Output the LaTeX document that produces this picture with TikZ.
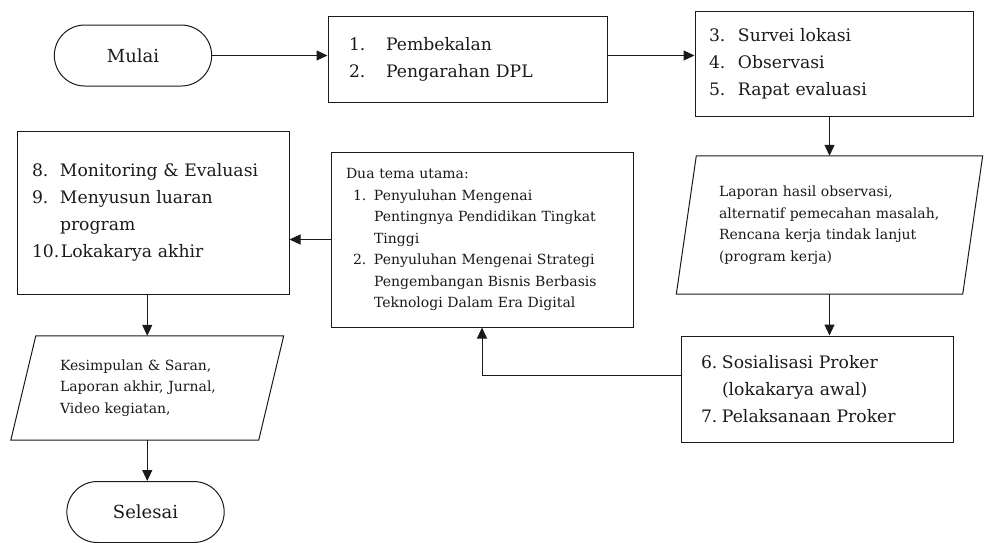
\documentclass[tikz,border=0pt]{standalone}
\usepackage{fontspec}
\setmainfont{DejaVu Serif}
\usetikzlibrary{arrows.meta,shapes.misc}
\newcommand{\itm}[2]{\makebox[#1][l]{#2}}
\definecolor{ink}{HTML}{1A1A1A}
\begin{document}
\begin{tikzpicture}[x=1pt,y=-1pt, text=ink,
  box/.style={draw=ink, line width=1pt, rectangle, inner ysep=0pt, align=left},
  plain/.style={draw=none, rectangle, inner ysep=0pt, align=left},
  big/.style={font=\fontsize{17.2}{27}\selectfont},
  small/.style={font=\fontsize{14}{21.5}\selectfont},
  term/.style={draw=ink, line width=1pt, rounded rectangle, minimum width=164pt, minimum height=61pt, font=\fontsize{18}{20}\selectfont},
  arr/.style={draw=ink, line width=1pt, -{Triangle[length=11pt,width=10pt]}},
  para/.style={draw=ink, line width=1pt, line join=miter},
]
\useasboundingbox (0,0) rectangle (984,542);

\node[term] (mulai) at (133,55.5) {Mulai};

\node[box,big, minimum width=279pt, minimum height=86pt, inner xsep=21pt, text width=237pt] (box1) at (467.5,59)
  {\itm{37pt}{1.}Pembekalan\\ \itm{37pt}{2.}Pengarahan DPL};

\node[box,big, minimum width=278pt, minimum height=105pt, inner xsep=14pt, text width=250pt] (box2) at (834,63.5)
  {\itm{29pt}{3.}Survei lokasi\\ \itm{29pt}{4.}Observasi\\ \itm{29pt}{5.}Rapat evaluasi};

\node[plain,small, minimum width=286pt, minimum height=138pt, inner xsep=32.5pt, text width=221pt] (p1) at (829.5,225)
  {Laporan hasil observasi,\\ alternatif pemecahan masalah,\\ Rencana kerja tindak lanjut\\ (program kerja)};
\draw[para] ([xshift=10pt]p1.north west) -- ([xshift=10pt]p1.north east) -- ([xshift=-10pt]p1.south east) -- ([xshift=-10pt]p1.south west) -- cycle;

\node[box,big, minimum width=272pt, minimum height=106pt, inner xsep=20pt, text width=232pt] (box3) at (817,389)
  {\itm{21pt}{6.}Sosialisasi Proker\\ \hspace*{21pt}(lokakarya awal)\\ \itm{21pt}{7.}Pelaksanaan Proker};

\node[box,small, minimum width=302pt, minimum height=175pt, inner xsep=15pt, text width=272pt] (mid) at (482,239.5)
  {Dua tema utama:\\
   \hspace*{7pt}\itm{21pt}{1.}Penyuluhan Mengenai\\
   \hspace*{28pt}Pentingnya Pendidikan Tingkat\\
   \hspace*{28pt}Tinggi\\
   \hspace*{7pt}\itm{21pt}{2.}Penyuluhan Mengenai Strategi\\
   \hspace*{28pt}Pengembangan Bisnis Berbasis\\
   \hspace*{28pt}Teknologi Dalam Era Digital};

\node[box,big, minimum width=272pt, minimum height=163pt, inner xsep=15pt, text width=242pt] (lbox) at (153,212.5)
  {\itm{28pt}{8.}Monitoring \& Evaluasi\\ \itm{28pt}{9.}Menyusun luaran\\ \hspace*{28pt}program\\ 10.\hspace{1.5pt}Lokakarya akhir};

\node[plain,small, minimum width=247.5pt, minimum height=104pt, inner xsep=36.5pt, text width=174.5pt] (p2) at (147.25,388)
  {Kesimpulan \& Saran,\\ Laporan akhir, Jurnal,\\ Video kegiatan,};
\draw[para] ([xshift=12.5pt]p2.north west) -- ([xshift=12.5pt]p2.north east) -- ([xshift=-12.5pt]p2.south east) -- ([xshift=-12.5pt]p2.south west) -- cycle;

\node[term] (selesai) at (145.5,512) {Selesai};

\draw[arr] (mulai.east) -- (box1.west |- mulai.east);
\draw[arr] (box1.east |- mulai.east) -- (box2.west |- mulai.east);
\draw[arr] (box2.south -| p1.north) -- (p1.north);
\draw[arr] (p1.south) -- (p1.south |- box3.north);
\draw[arr] ([yshift=14pt]box3.west) -| (mid.south);
\draw[arr] (mid.west) -- (lbox.east |- mid.west);
\draw[arr] (lbox.south -| p2.north) -- (p2.north);
\draw[arr] (p2.south) -- (p2.south |- selesai.north);
\end{tikzpicture}
\end{document}
